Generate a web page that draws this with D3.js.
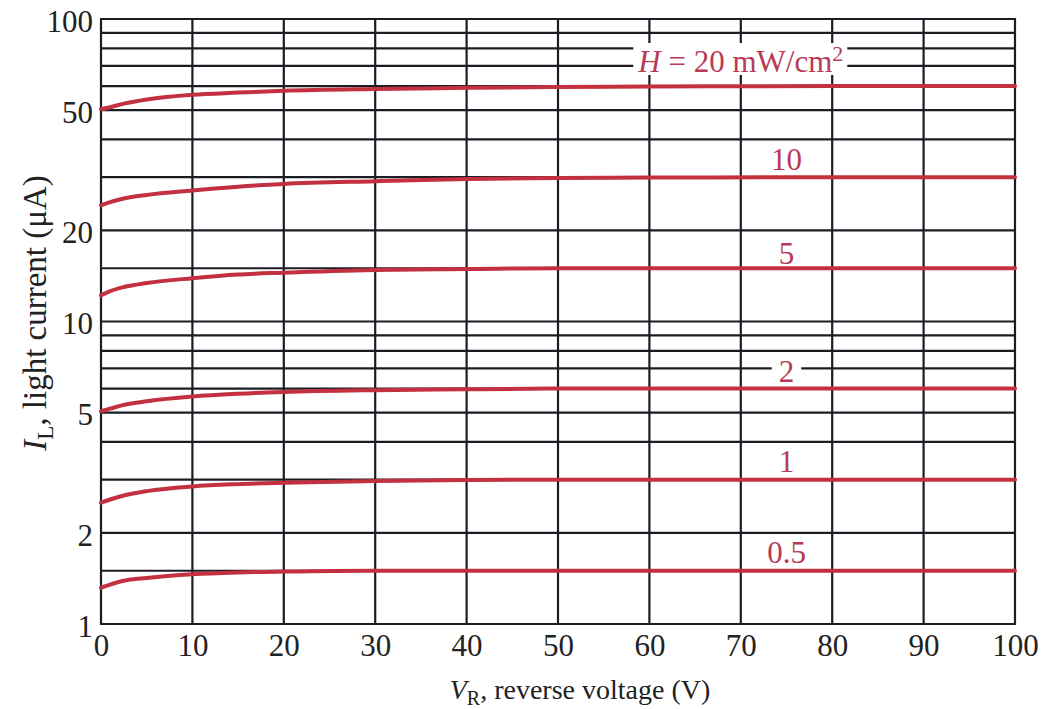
<!DOCTYPE html>
<html lang="en">
<head>
    <meta charset="UTF-8">
    <title>Light current vs reverse voltage</title>
    <script src="https://d3js.org/d3.v7.min.js"></script>
    <style>
        body { margin: 0; background: #fff; }
        svg { font-family: "Liberation Serif", "DejaVu Serif", serif; }
        .grid line { stroke: #1c1c24; stroke-width: 2.2; }
        .tick text { fill: #222; }
        .curve { fill: none; stroke: #c3303f; stroke-width: 4; stroke-linecap: round; }
        .lbl { font-size: 31px; fill: #b83a55; }
        .title { fill: #222; }
    </style>
</head>
<body>
    <svg width="1043" height="709"></svg>
    <script>
        // data
        const voltage = [0, 1, 2.5, 5, 10, 15, 20, 30, 40, 50, 60, 80, 100];
        const irradiance = ["20", "10", "5", "2", "1", "0.5"];
        const current20 = [50.3, 51.1, 52.5, 54.2, 56.2, 57.1, 57.9, 58.7, 59.2, 59.6, 59.8, 60, 60];
        const current10 = [24.2, 24.8, 25.5, 26.2, 27.1, 27.9, 28.5, 29.1, 29.6, 29.8, 29.9, 30, 30];
        const current5 = [12.2, 12.6, 13.0, 13.4, 13.9, 14.3, 14.5, 14.8, 14.9, 15, 15, 15, 15];
        const current2 = [5.05, 5.15, 5.3, 5.45, 5.65, 5.77, 5.85, 5.93, 5.97, 6, 6, 6, 6];
        const current1 = [2.52, 2.58, 2.66, 2.75, 2.85, 2.9, 2.93, 2.97, 2.99, 3, 3, 3, 3];
        const current05 = [1.32, 1.35, 1.39, 1.42, 1.46, 1.48, 1.49, 1.5, 1.5, 1.5, 1.5, 1.5, 1.5];
        const xTicks = [0, 10, 20, 30, 40, 50, 60, 70, 80, 90, 100];
        const yTicks = [1, 2, 5, 10, 20, 50, 100];
        const yGrid = [1, 1.5, 2, 3, 4, 5, 6, 7, 8, 9, 10, 15, 20, 30, 40, 50, 60, 70, 80, 90, 100];

        const series = [current20, current10, current5, current2, current1, current05];

        // where each curve label sits (V, I at baseline)
        const labelAt = [[70, 66.8], [75, 31.7], [75, 15.5], [75, 6.31], [75, 3.18], [75, 1.59]];

        const svg = d3.select("svg");
        const x = d3.scaleLinear().domain([0, 100]).range([101, 1015]);
        const y = d3.scaleLog().domain([1, 100]).range([624, 19]);

        // grid
        const grid = svg.append("g").attr("class", "grid");
        grid.selectAll(".v").data(xTicks).enter().append("line")
            .attr("x1", d => x(d)).attr("x2", d => x(d))
            .attr("y1", y(1) + 1).attr("y2", y(100) - 1);
        grid.selectAll(".h").data(yGrid).enter().append("line")
            .attr("x1", x(0) - 1).attr("x2", x(100) + 1)
            .attr("y1", d => y(d)).attr("y2", d => y(d));

        // axes (labels only)
        const xAxis = svg.append("g")
            .attr("transform", `translate(0,${y(1)})`)
            .call(d3.axisBottom(x).tickValues(xTicks).tickSize(0).tickFormat(d3.format("d")));
        xAxis.select(".domain").remove();
        xAxis.selectAll("text").attr("dy", null).attr("y", 32);

        const yAxis = svg.append("g")
            .attr("transform", `translate(${x(0)},0)`)
            .call(d3.axisLeft(y).tickValues(yTicks).tickSize(0).tickPadding(8).tickFormat(d3.format("d")));
        yAxis.select(".domain").remove();
        yAxis.selectAll("text").attr("dy", "0.4em");

        [xAxis, yAxis].forEach(a => a.attr("font-family", null).attr("font-size", 31));
        svg.selectAll(".tick line").remove();

        // curves
        const line = d3.line()
            .x((d, i) => x(voltage[i]))
            .y(d => y(d))
            .curve(d3.curveMonotoneX);
        svg.selectAll(".curve").data(series).enter().append("path")
            .attr("class", "curve")
            .attr("d", line);

        // curve labels
        irradiance.forEach((h, i) => {
            const g = svg.append("g");
            const t = g.append("text").attr("class", "lbl")
                .attr("x", x(labelAt[i][0])).attr("y", y(labelAt[i][1]))
                .attr("text-anchor", "middle");
            if (i === 0) {
                t.append("tspan").attr("font-style", "italic").text("H");
                t.append("tspan").text(" = " + h + " mW/cm");
                t.append("tspan").attr("dy", -11).style("font-size", "22px").text("2");
            } else {
                t.text(h);
            }
            if (i === 0 || h === "2") {
                const b = t.node().getBBox();
                const pad = i === 0 ? 4 : 7;
                g.insert("rect", "text")
                    .attr("x", b.x - pad).attr("y", b.y + 2)
                    .attr("width", b.width + 2 * pad).attr("height", b.height - 6)
                    .attr("fill", "#fff");
            }
        });

        // axis titles
        const xt = svg.append("text").attr("class", "title")
            .style("font-size", "28px")
            .attr("x", 580).attr("y", 699).attr("text-anchor", "middle");
        xt.append("tspan").attr("font-style", "italic").text("V");
        xt.append("tspan").attr("dy", 6).style("font-size", "20px").text("R");
        xt.append("tspan").attr("dy", -6).text(", reverse voltage (V)");

        const yt = svg.append("text").attr("class", "title")
            .style("font-size", "33px")
            .attr("transform", "translate(46,313) rotate(-90)")
            .attr("text-anchor", "middle");
        yt.append("tspan").attr("font-style", "italic").text("I");
        yt.append("tspan").attr("dy", 7).style("font-size", "23px").text("L");
        yt.append("tspan").attr("dy", -7).text(", light current (\u03bcA)");
    </script>
</body>
</html>
